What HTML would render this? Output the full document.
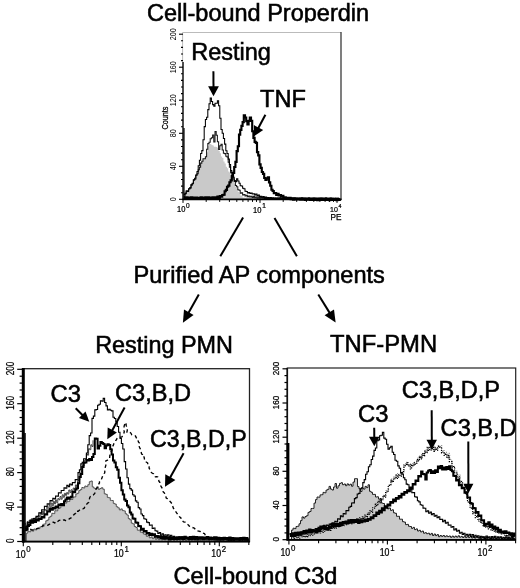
<!DOCTYPE html>
<html><head><meta charset="utf-8"><style>
html,body{margin:0;padding:0;background:#fff;}
svg{display:block;}
.t{font-family:"Liberation Sans",Arial,Helvetica,sans-serif;fill:#000;}
.b{stroke:#000;stroke-width:0.55px;}
.s{stroke:#000;stroke-width:0.25px;}
</style></head><body>
<svg width="520" height="588" viewBox="0 0 520 588">
<rect width="520" height="588" fill="#fff"/>
<path d="M183.8,199.0H185.0V193.8H186.2V191.8H187.4V191.5H188.6V190.0H189.8V188.8H191.0V185.8H192.2V183.9H193.4V180.6H194.6V178.8H195.8V175.3H197.0V172.8H198.2V169.3H199.4V167.1H200.6V163.4H201.8V161.2H203.0V158.6H204.2V158.7H205.4V156.9H206.6V152.2H207.8V145.7H209.0V144.2H210.2V144.0H211.4V145.1H212.6V145.5H213.8V146.8H215.0V146.7H216.2V147.1H217.4V148.0H218.6V151.1H219.8V153.2H221.0V156.4H222.2V158.1H223.4V161.4H224.6V163.5H225.8V166.7H227.0V168.3H228.2V171.4H229.4V172.5H230.6V175.8H231.8V177.9H233.0V181.2H234.2V183.5H235.4V186.7H236.6V188.6H237.8V191.7H239.0V193.4H240.2V195.5H241.4V195.7H242.6V197.6H243.8V197.4H245.0V197.8H246.2V197.2H247.4V198.0H248.6V197.2H249.8V198.1H251.0V197.5H252.2V197.8H253.4V196.9H254.6V197.4H255.8V196.5H257.0V196.0H258.2V194.4H259.4V195.4H260.6V196.0H261.8V197.5H263.0V197.4H264.2V197.9H265.4V197.5H266.6V198.3H267.8V197.9H269.0V198.7H270.2V198.3H271.4V198.9H272.6V198.3H273.8V198.9H275.0V198.4H276.2V198.9H277.4V198.3H278.6V198.8H279.8V198.1H281.0V199.0H282.2V198.4H283.4V199.1H284.6V198.4H285.8V198.9H287.0V198.2H288.2V199.1H289.4V198.5H290.6V199.2H291.8V198.5H293.0V199.0H294.2V198.3H295.4V199.0H296.6V198.5H297.8V199.0H299.0V198.6H300.2V199.2H301.4V198.6H302.6V199.2H303.8V198.6H305.0V199.2H306.2V198.4H307.4V199.2H308.6V198.6H309.8V199.3H311.0V198.7H312.2V199.2H313.4V198.5H314.6V199.3H315.8V198.8H317.0V199.2H318.2V198.6H319.4V199.3H320.6V198.8H321.8V199.3H323.0V198.6H324.2V199.3H325.4V198.8H326.6V199.3H327.8V199.0H329.0V199.3H330.2V198.9H331.4V199.3H332.6V199.0H333.8V199.3H335.0V198.9H336.2V199.3H337.4V199.1H338.6V199.3H339.8V199.1V199.3H183.8Z" fill="#c9c9c9" stroke="none" stroke-width="1" stroke-linejoin="miter"/>
<path d="M183.8,196.4H185.0V193.1H186.2V190.7H187.4V190.8H188.6V188.7H189.8V187.5H191.0V184.6H192.2V183.7H193.4V180.1H194.6V179.3H195.8V175.3H197.0V173.8H198.2V169.7H199.4V167.2H200.6V163.1H201.8V161.3H203.0V158.7H204.2V158.7H205.4V156.8H206.6V149.2H207.8V143.6H209.0V142.2H210.2V138.8H211.4V137.7H212.6V135.0H213.8V142.0H215.0V131.6H216.2V135.2H217.4V141.7H218.6V149.5H219.8V145.7H221.0V144.2H222.2V150.0H223.4V153.3H224.6V153.6H225.8V156.3H227.0V157.0H228.2V162.3H229.4V167.1H230.6V172.6H231.8V174.5H233.0V178.9H234.2V181.4H235.4V185.5H236.6V186.8H237.8V189.7H239.0V190.2H240.2V193.2H241.4V192.8H242.6V195.0H243.8V194.4H245.0V196.0H246.2V195.3H247.4V196.8H248.6V196.0H249.8V196.9H251.0V196.2H252.2V197.5H253.4V196.2H254.6V197.7H255.8V197.0H257.0V198.2H258.2V197.0H259.4V198.2H260.6V197.3H261.8V198.3H263.0V197.3H264.2V198.7H265.4V197.7H266.6V198.7H267.8V197.8H269.0V198.9H270.2V198.0H271.4V198.8H272.6V197.8H273.8V199.0H275.0V198.0H276.2V198.9H277.4V198.0H278.6V198.8H279.8V197.8H281.0V199.3H282.2V197.8H283.4V199.3H284.6V198.1H285.8V199.3H287.0V198.0H288.2V198.9H289.4V197.8H290.6V199.4H291.8V198.2H293.0V199.0H294.2V197.8H295.4V199.0H296.6V198.1H297.8V198.9H299.0V198.3H300.2V199.3H301.4V197.7H302.6V199.5H303.8V198.0H305.0V198.9H306.2V198.2H307.4V199.4H308.6V197.8H309.8V199.3H311.0V198.2H312.2V199.3H313.4V198.1H314.6V199.3H315.8V198.2H317.0V199.6H318.2V197.9H319.4V199.1H320.6V198.2H321.8V199.5H323.0V198.3H324.2V199.6H325.4V198.1H326.6V199.4H327.8V198.0H329.0V199.1H330.2V198.3H331.4V199.2H332.6V198.1H333.8V199.5H335.0V198.4H336.2V199.6H337.4V198.3H338.6V199.2H339.8V198.3" fill="none" stroke="#1a1a1a" stroke-width="1.05" stroke-linejoin="miter"/>
<path d="M183.8,194.6H185.0V193.6H186.2V191.3H187.4V191.5H188.6V189.0H189.8V188.1H191.0V185.1H192.2V183.3H193.4V179.8H194.6V178.2H195.8V174.9H197.0V171.4H198.2V165.8H199.4V160.2H200.6V153.5H201.8V150.6H203.0V139.7H204.2V126.6H205.4V119.4H206.6V117.2H207.8V109.6H209.0V103.8H210.2V97.9H211.4V101.4H212.6V104.6H213.8V106.1H215.0V103.3H216.2V103.3H217.4V100.8H218.6V105.7H219.8V118.2H221.0V129.5H222.2V133.2H223.4V138.4H224.6V144.1H225.8V150.7H227.0V153.5H228.2V159.1H229.4V164.5H230.6V170.6H231.8V172.8H233.0V177.2H234.2V180.6H235.4V181.8H236.6V178.7H237.8V180.9H239.0V183.2H240.2V185.7H241.4V185.9H242.6V188.2H243.8V188.7H245.0V191.3H246.2V191.4H247.4V193.0H248.6V192.5H249.8V193.5H251.0V193.0H252.2V194.0H253.4V193.7H254.6V195.0H255.8V194.0H257.0V195.6H258.2V194.9H259.4V196.8H260.6V196.2H261.8V197.2H263.0V196.5H264.2V198.1H265.4V197.0H266.6V198.1H267.8V197.5H269.0V198.9H270.2V197.6H271.4V199.0H272.6V198.0H273.8V199.1H275.0V197.9H276.2V199.0H277.4V198.1H278.6V199.2H279.8V197.8H281.0V199.1H282.2V198.1H283.4V199.0H284.6V197.9H285.8V199.0H287.0V198.0H288.2V199.1H289.4V198.1H290.6V198.9H291.8V198.2H293.0V199.2H294.2V198.2H295.4V198.9H296.6V198.3H297.8V199.2H299.0V198.0H300.2V199.1H301.4V198.3H302.6V199.1H303.8V198.2H305.0V198.9H306.2V198.4H307.4V199.4H308.6V198.3H309.8V199.1H311.0V198.3H312.2V199.2H313.4V198.4H314.6V199.2H315.8V198.2H317.0V199.4H318.2V198.4H319.4V199.1H320.6V198.2H321.8V199.5H323.0V198.2H324.2V199.2H325.4V198.1H326.6V199.1H327.8V198.5H329.0V199.3H330.2V198.0H331.4V199.4H332.6V198.4H333.8V199.4H335.0V198.1H336.2V199.2H337.4V198.2H338.6V199.2H339.8V198.4" fill="none" stroke="#000" stroke-width="1.05" stroke-linejoin="miter"/>
<path d="M183.8,197.7H185.0V198.6H186.2V197.4H187.4V198.8H188.6V197.6H189.8V198.4H191.0V197.3H192.2V198.6H193.4V197.6H194.6V198.6H195.8V197.5H197.0V198.7H198.2V197.7H199.4V198.4H200.6V197.2H201.8V198.4H203.0V197.6H204.2V198.6H205.4V197.3H206.6V198.2H207.8V197.3H209.0V198.5H210.2V197.5H211.4V198.4H212.6V197.4H213.8V198.0H215.0V197.2H216.2V197.8H217.4V196.6H218.6V197.8H219.8V196.0H221.0V196.6H222.2V195.0H223.4V194.7H224.6V191.2H225.8V189.9H227.0V186.7H228.2V185.6H229.4V182.2H230.6V180.3H231.8V176.1H233.0V172.9H234.2V167.0H235.4V161.8H236.6V151.1H237.8V146.2H239.0V134.6H240.2V129.8H241.4V125.8H242.6V122.1H243.8V115.4H245.0V117.5H246.2V121.1H247.4V124.5H248.6V120.9H249.8V117.5H251.0V120.9H252.2V131.2H253.4V137.8H254.6V141.9H255.8V142.9H257.0V152.1H258.2V155.3H259.4V164.3H260.6V167.9H261.8V172.0H263.0V173.8H264.2V178.0H265.4V179.8H266.6V178.6H267.8V177.2H269.0V182.3H270.2V185.7H271.4V189.7H272.6V191.0H273.8V193.2H275.0V193.1H276.2V194.8H277.4V193.9H278.6V195.4H279.8V195.0H281.0V196.1H282.2V195.8H283.4V197.6H284.6V197.3H285.8V198.3H287.0V197.8H288.2V198.7H289.4V197.7H290.6V199.2H291.8V198.3H293.0V199.6H294.2V198.5H295.4V199.4H296.6V198.8H297.8V199.5H299.0V198.9H300.2V199.7H301.4V198.6H302.6V199.7H303.8V198.9H305.0V199.9H306.2V198.6H307.4V199.7H308.6V198.7H309.8V199.8H311.0V198.8H312.2V199.9H313.4V198.6H314.6V200.0H315.8V198.9H317.0V200.1H318.2V198.9H319.4V199.9H320.6V198.6H321.8V200.0H323.0V198.7H324.2V199.8H325.4V198.7H326.6V200.0H327.8V199.1H329.0V200.2H330.2V198.9H331.4V199.9H332.6V199.1H333.8V199.8H335.0V199.1H336.2V200.1H337.4V199.2H338.6V199.9H339.8V199.0" fill="none" stroke="#000" stroke-width="2.15" stroke-linejoin="miter"/>
<line x1="182.6" y1="32.5" x2="341" y2="32.5" stroke="#bbb" stroke-width="1"/>
<line x1="182.6" y1="32.5" x2="182.6" y2="62" stroke="#bbb" stroke-width="1"/>
<line x1="183" y1="62" x2="183" y2="200" stroke="#000" stroke-width="1.4"/>
<line x1="184" y1="128" x2="184" y2="199" stroke="#000" stroke-width="1.2"/>
<line x1="341" y1="32" x2="341" y2="200" stroke="#3a3a3a" stroke-width="1.3"/>
<line x1="182.5" y1="199.4" x2="341.5" y2="199.4" stroke="#000" stroke-width="1.6"/>
<line x1="179" y1="199.3" x2="183" y2="199.3" stroke="#000" stroke-width="1.1"/>
<line x1="181" y1="192.7" x2="183" y2="192.7" stroke="#000" stroke-width="1.1"/>
<line x1="181" y1="186.1" x2="183" y2="186.1" stroke="#000" stroke-width="1.1"/>
<line x1="181" y1="179.5" x2="183" y2="179.5" stroke="#000" stroke-width="1.1"/>
<line x1="181" y1="172.9" x2="183" y2="172.9" stroke="#000" stroke-width="1.1"/>
<line x1="179" y1="166.3" x2="183" y2="166.3" stroke="#000" stroke-width="1.1"/>
<line x1="181" y1="159.7" x2="183" y2="159.7" stroke="#000" stroke-width="1.1"/>
<line x1="181" y1="153.1" x2="183" y2="153.1" stroke="#000" stroke-width="1.1"/>
<line x1="181" y1="146.5" x2="183" y2="146.5" stroke="#000" stroke-width="1.1"/>
<line x1="181" y1="139.9" x2="183" y2="139.9" stroke="#000" stroke-width="1.1"/>
<line x1="179" y1="133.3" x2="183" y2="133.3" stroke="#000" stroke-width="1.1"/>
<line x1="181" y1="126.7" x2="183" y2="126.7" stroke="#000" stroke-width="1.1"/>
<line x1="181" y1="120.1" x2="183" y2="120.1" stroke="#000" stroke-width="1.1"/>
<line x1="181" y1="113.4" x2="183" y2="113.4" stroke="#000" stroke-width="1.1"/>
<line x1="181" y1="106.8" x2="183" y2="106.8" stroke="#000" stroke-width="1.1"/>
<line x1="179" y1="100.2" x2="183" y2="100.2" stroke="#000" stroke-width="1.1"/>
<line x1="181" y1="93.6" x2="183" y2="93.6" stroke="#000" stroke-width="1.1"/>
<line x1="181" y1="87.0" x2="183" y2="87.0" stroke="#000" stroke-width="1.1"/>
<line x1="181" y1="80.4" x2="183" y2="80.4" stroke="#000" stroke-width="1.1"/>
<line x1="181" y1="73.8" x2="183" y2="73.8" stroke="#000" stroke-width="1.1"/>
<line x1="179" y1="67.2" x2="183" y2="67.2" stroke="#000" stroke-width="1.1"/>
<line x1="181" y1="60.6" x2="183" y2="60.6" stroke="#000" stroke-width="1.1"/>
<line x1="181" y1="54.0" x2="183" y2="54.0" stroke="#000" stroke-width="1.1"/>
<line x1="181" y1="47.4" x2="183" y2="47.4" stroke="#000" stroke-width="1.1"/>
<line x1="181" y1="40.8" x2="183" y2="40.8" stroke="#000" stroke-width="1.1"/>
<line x1="179" y1="34.2" x2="183" y2="34.2" stroke="#000" stroke-width="1.1"/>
<text transform="translate(176.0,199.3) rotate(-90) scale(0.88,1)" text-anchor="middle" font-size="8.3" class="t">0</text>
<text transform="translate(176.0,166.3) rotate(-90) scale(0.88,1)" text-anchor="middle" font-size="8.3" class="t">40</text>
<text transform="translate(176.0,133.3) rotate(-90) scale(0.88,1)" text-anchor="middle" font-size="8.3" class="t">80</text>
<text transform="translate(176.0,100.2) rotate(-90) scale(0.88,1)" text-anchor="middle" font-size="8.3" class="t">120</text>
<text transform="translate(176.0,67.2) rotate(-90) scale(0.88,1)" text-anchor="middle" font-size="8.3" class="t">160</text>
<text transform="translate(176.0,34.2) rotate(-90) scale(0.88,1)" text-anchor="middle" font-size="8.3" class="t">200</text>
<text transform="translate(167.6,118) rotate(-90) scale(0.95,1.1)" text-anchor="middle" font-size="7.6" class="t s">Counts</text>
<line x1="183.0" y1="199.4" x2="183.0" y2="202.9" stroke="#000" stroke-width="1"/>
<line x1="206.2" y1="199.4" x2="206.2" y2="201.9" stroke="#000" stroke-width="1"/>
<line x1="219.7" y1="199.4" x2="219.7" y2="201.9" stroke="#000" stroke-width="1"/>
<line x1="229.4" y1="199.4" x2="229.4" y2="201.9" stroke="#000" stroke-width="1"/>
<line x1="236.8" y1="199.4" x2="236.8" y2="201.9" stroke="#000" stroke-width="1"/>
<line x1="242.9" y1="199.4" x2="242.9" y2="201.9" stroke="#000" stroke-width="1"/>
<line x1="248.1" y1="199.4" x2="248.1" y2="201.9" stroke="#000" stroke-width="1"/>
<line x1="252.5" y1="199.4" x2="252.5" y2="201.9" stroke="#000" stroke-width="1"/>
<line x1="256.5" y1="199.4" x2="256.5" y2="201.9" stroke="#000" stroke-width="1"/>
<line x1="260.0" y1="199.4" x2="260.0" y2="202.9" stroke="#000" stroke-width="1"/>
<line x1="283.2" y1="199.4" x2="283.2" y2="201.9" stroke="#000" stroke-width="1"/>
<line x1="296.7" y1="199.4" x2="296.7" y2="201.9" stroke="#000" stroke-width="1"/>
<line x1="306.4" y1="199.4" x2="306.4" y2="201.9" stroke="#000" stroke-width="1"/>
<line x1="313.8" y1="199.4" x2="313.8" y2="201.9" stroke="#000" stroke-width="1"/>
<line x1="319.9" y1="199.4" x2="319.9" y2="201.9" stroke="#000" stroke-width="1"/>
<line x1="325.1" y1="199.4" x2="325.1" y2="201.9" stroke="#000" stroke-width="1"/>
<line x1="329.5" y1="199.4" x2="329.5" y2="201.9" stroke="#000" stroke-width="1"/>
<line x1="333.5" y1="199.4" x2="333.5" y2="201.9" stroke="#000" stroke-width="1"/>
<line x1="337.0" y1="199.4" x2="337.0" y2="202.9" stroke="#000" stroke-width="1"/>
<text transform="translate(176.94,212.2) scale(0.88,1)" font-size="8.6" class="t s">10<tspan font-size="7.4" dx="0.8" dy="-4.6">0</tspan></text>
<text transform="translate(253.04,212.5) scale(0.88,1)" font-size="8.6" class="t s">10<tspan font-size="7.4" dx="0.8" dy="-4.6">1</tspan></text>
<text transform="translate(330.00,212.3) scale(0.88,1)" font-size="8.0" class="t s">10<tspan font-size="6.0" dx="0.8" dy="-4.0">4</tspan></text>
<text x="330.6" y="220.2" font-size="8.2" class="t s">PE</text>
<clipPath id="ct"><rect x="0" y="0" width="520" height="22.6"/></clipPath><text x="147" y="21" font-size="23.5" class="t b" clip-path="url(#ct)">Cell-bound Properdin</text>
<text x="191.2" y="60" font-size="23.5" class="t b">Resting</text>
<text x="260" y="106.8" font-size="23.6" class="t b">TNF</text>
<line x1="213.4" y1="71.3" x2="213.5" y2="87.3" stroke="#000" stroke-width="2"/><polygon points="213.5,96.3 208.1,86.3 218.9,86.3" fill="#000"/>
<line x1="265.4" y1="114.8" x2="258.1" y2="128.5" stroke="#000" stroke-width="2"/><polygon points="253.8,136.4 253.9,125.1 263.2,130.1" fill="#000"/>
<line x1="243.1" y1="217.5" x2="220.3" y2="256.3" stroke="#000" stroke-width="2"/>
<line x1="274.5" y1="218" x2="296.9" y2="256.3" stroke="#000" stroke-width="2"/>
<text x="133.5" y="282.5" font-size="23.6" class="t b">Purified AP components</text>
<line x1="198.8" y1="294.5" x2="188.3" y2="313.2" stroke="#000" stroke-width="2"/><polygon points="182.9,322.8 184.0,309.6 193.6,315.0" fill="#000"/>
<line x1="318.3" y1="294.5" x2="329.8" y2="313.1" stroke="#000" stroke-width="2"/><polygon points="335.6,322.5 324.6,315.2 334.0,309.4" fill="#000"/>
<text x="95.2" y="352.5" font-size="23.4" class="t b">Resting PMN</text>
<text x="330" y="352.3" font-size="23.8" class="t b">TNF-PMN</text>
<text x="173.5" y="584.2" font-size="23.6" class="t b">Cell-bound C3d</text>
<path d="M24.8,541.1H26.3V533.1H27.8V531.2H29.3V531.8H30.8V530.3H32.3V531.1H33.8V529.0H35.3V529.9H36.8V528.3H38.3V528.7H39.8V526.9H41.3V526.5H42.8V524.3H44.3V523.9H45.8V520.8H47.3V520.0H48.8V517.2H50.3V516.2H51.8V513.3H53.3V513.6H54.8V510.7H56.3V510.8H57.8V508.5H59.3V508.0H60.8V505.7H62.3V505.3H63.8V502.8H65.3V503.1H66.8V501.3H68.3V501.4H69.8V499.3H71.3V499.5H72.8V497.1H74.3V496.9H75.8V494.0H77.3V493.2H78.8V490.6H80.3V489.6H81.8V487.5H83.3V488.0H84.8V486.0H86.3V486.6H87.8V484.7H89.3V481.7H90.8V481.0H92.3V486.9H93.8V488.2H95.3V488.7H96.8V486.8H98.3V489.4H99.8V488.5H101.3V487.7H102.8V489.2H104.3V493.8H105.8V494.4H107.3V497.4H108.8V497.8H110.3V500.4H111.8V500.5H113.3V503.4H114.8V504.1H116.3V506.7H117.8V507.8H119.3V509.9H120.8V508.9H122.3V510.6H123.8V510.9H125.3V513.7H126.8V515.0H128.3V518.6H129.8V519.8H131.3V523.1H132.8V523.9H134.3V526.5H135.8V527.5H137.3V530.2H138.8V530.0H140.3V532.2H141.8V532.3H143.3V534.0H144.8V534.3H146.3V536.3H147.8V535.6H149.3V537.8H150.8V537.1H152.3V538.7H153.8V537.4H155.3V539.3H156.8V538.1H158.3V539.7H159.8V538.2H161.3V539.9H162.8V538.4H164.3V539.9H165.8V538.9H167.3V539.8H168.8V538.6H170.3V539.9H171.8V539.3H173.3V540.4H174.8V538.9H176.3V540.3H177.8V539.0H179.3V540.1H180.8V539.4H182.3V540.4H183.8V539.4H185.3V540.4H186.8V539.7H188.3V540.6H189.8V539.3H191.3V541.1H192.8V539.5H194.3V540.9H195.8V539.9H197.3V541.3H198.8V539.9H200.3V541.2H201.8V540.2H203.3V541.0H204.8V539.8H206.3V541.4H207.8V539.8H209.3V541.3H210.8V540.2H212.3V541.4H213.8V540.0H215.3V541.3H216.8V540.2H218.3V541.3H219.8V540.2H221.3V541.2H222.8V540.3H224.3V541.5H225.8V540.7H227.3V541.5H228.8V540.4H230.3V541.5H231.8V540.5H233.3V541.5H234.8V540.7H236.3V541.5H237.8V540.4H239.3V541.5H240.8V541.0H242.3V541.5H243.8V541.1H245.3V541.5H246.8V541.1H248.3V541.5V541.5H24.8Z" fill="#c9c9c9" stroke="#333" stroke-width="0.8" stroke-linejoin="miter"/>
<polyline points="24.8,530.0 26.2,530.7 28.6,528.9 29.5,529.0 31.4,529.7 33.0,530.0 34.7,530.0 37.0,528.6 38.7,528.1 39.6,527.4 41.6,527.1 42.8,525.6 44.8,526.0 46.5,525.6 47.9,525.1 49.6,524.1 51.7,522.7 53.3,522.2 54.7,523.0 56.4,521.2 57.4,521.8 59.2,520.3 61.2,519.9 62.4,520.4 64.1,519.8 65.4,520.6 67.3,519.4 68.9,519.1 70.1,518.4 71.6,517.5 73.4,515.3 73.9,514.6 75.3,513.5 75.9,513.4 76.5,511.2 78.2,511.2 79.9,509.7 81.4,509.3 82.7,509.0 84.3,508.1 84.8,506.8 85.6,505.3 87.7,503.1 88.8,502.3 89.2,500.2 89.7,497.7 90.2,496.7 92.0,495.2 93.4,494.9 94.7,493.5 95.6,491.5 96.1,488.8 96.9,488.2 97.9,486.0 98.2,485.0 99.5,482.9 99.4,482.0 100.2,480.3 101.3,479.7 102.3,476.9 103.0,475.5 104.1,473.6 104.7,472.9 104.9,469.6 104.8,469.5 105.4,466.8 105.8,465.6 105.8,464.7 105.8,462.3 105.8,460.8 107.5,460.1 109.5,459.2 109.8,456.1 109.8,455.4 110.2,453.6 110.6,452.5 112.0,450.5 111.9,449.1 112.4,446.8 113.6,444.7 113.6,444.2 114.9,442.0 115.8,440.2 116.3,440.1 117.3,437.8 118.8,437.8 120.8,437.1 122.0,436.8 123.2,435.2 123.5,434.4 124.3,431.7 124.0,430.7 124.0,428.9 124.1,426.4 124.4,425.2 125.2,423.8 125.9,422.5 126.2,425.4 126.6,426.5 127.1,427.3 127.3,430.2 126.9,432.1 128.6,431.5 130.8,433.0 131.9,434.8 133.7,435.4 135.4,435.9 136.7,438.5 138.3,439.9 138.2,441.0 138.4,441.9 139.3,443.0 138.9,445.0 139.2,446.6 140.0,448.4 140.6,449.4 141.0,451.4 141.5,453.7 142.5,454.7 142.6,457.0 144.1,456.9 144.5,459.3 145.6,460.1 146.2,462.0 147.7,463.0 147.7,466.0 149.1,466.9 149.2,468.5 150.2,469.7 151.2,472.3 152.0,473.0 153.6,473.8 155.2,476.8 156.4,476.7 157.7,476.8 158.6,478.6 158.9,481.3 159.8,482.3 159.8,484.1 160.9,486.2 161.2,486.6 162.5,488.8 162.6,489.7 163.1,491.7 164.4,492.9 165.0,494.8 165.7,495.8 166.2,498.0 167.6,498.8 168.5,500.1 169.5,500.8 170.8,502.3 171.9,503.6 172.0,505.3 172.7,506.3 173.4,508.3 174.4,509.4 175.0,511.0 176.3,512.2 176.6,512.8 177.8,514.4 178.2,515.4 179.8,517.1 180.9,517.8 181.1,519.7 182.2,520.3 183.5,521.9 185.2,522.2 186.6,523.5 188.3,524.9 189.4,526.2 191.4,526.5 192.2,527.4 194.3,528.2 195.8,529.8 196.8,530.7 198.6,531.1 200.1,531.4 200.9,532.5 202.9,533.1 204.6,533.7 205.7,536.0 207.3,536.8 208.3,537.1 210.7,538.1 211.9,537.4 213.9,537.0 215.4,538.6 217.3,537.9 218.6,539.0 220.5,538.1 222.2,537.7 223.7,538.2 224.6,538.5 226.1,537.8 228.2,538.2 229.6,539.2 231.1,538.4 232.3,539.1 233.9,538.0 235.2,538.3 236.6,538.6 238.3,539.5 240.2,539.6 241.8,538.0 243.0,539.5 244.5,539.6 245.7,538.1 247.8,538.6 249.0,539.0" fill="none" stroke="#000" stroke-width="1.35" stroke-linejoin="round" stroke-dasharray="3.4,2.8"/>
<path d="M24.8,523.7H25.9V527.3H27.0V521.7H28.1V523.7H29.2V520.1H30.3V522.3H31.4V518.7H32.5V520.7H33.6V518.2H34.7V520.1H35.8V517.0H36.9V518.7H38.0V515.6H39.1V516.3H40.2V512.6H41.3V515.0H42.4V511.1H43.5V513.7H44.6V509.5H45.7V510.7H46.8V507.0H47.9V509.8H49.0V505.3H50.1V508.0H51.2V503.0H52.3V505.7H53.4V501.5H54.5V503.9H55.6V500.0H56.7V502.6H57.8V498.6H58.9V499.8H60.0V496.5H61.1V499.2H62.2V494.8H63.3V497.3H64.4V493.3H65.5V495.4H66.6V492.6H67.7V494.1H68.8V490.0H69.9V492.4H71.0V489.8H72.1V490.8H73.2V488.0H74.3V488.9H75.4V484.9H76.5V486.8H77.6V480.5H78.7V480.1H79.8V473.6H80.9V471.6H82.0V465.3H83.1V466.0H84.2V460.3H85.3V459.6H86.4V454.0H87.5V455.2H88.6V448.7H89.7V449.7H90.8V444.8H91.9V446.5H93.0V440.3" fill="none" stroke="#333" stroke-width="0.9" stroke-linejoin="miter"/>
<path d="M24.8,527.0H26.2V526.4H27.6V522.2H29.0V522.6H30.4V520.1H31.8V520.8H33.2V518.6H34.6V519.2H36.0V516.4H37.4V516.2H38.8V512.7H40.2V513.1H41.6V509.7H43.0V510.0H44.4V506.3H45.8V506.4H47.2V503.7H48.6V504.1H50.0V500.6H51.4V501.0H52.8V498.4H54.2V498.9H55.6V496.0H57.0V496.1H58.4V492.7H59.8V493.0H61.2V490.5H62.6V490.5H64.0V487.9H65.4V488.3H66.8V485.4H68.2V486.6H69.6V484.0H71.0V484.9H72.4V482.5H73.8V482.6H75.2V479.6H76.6V479.7H78.0V472.6H79.4V469.9H80.8V463.9H82.2V462.4H83.6V458.8H85.0V458.8H86.4V453.0H87.8V444.7H89.2V435.6H90.6V433.0H92.0V418.4H93.4V416.1H94.8V409.9H96.2V409.5H97.6V405.2H99.0V404.3H100.4V400.7H101.8V401.1H103.2V398.4H104.6V402.5H106.0V405.9H107.4V410.0H108.8V409.2H110.2V410.3H111.6V410.9H113.0V417.2H114.4V418.5H115.8V421.8H117.2V426.5H118.6V432.2H120.0V438.4H121.4V443.5H122.8V449.0H124.2V461.6H125.6V469.0H127.0V477.7H128.4V484.1H129.8V488.6H131.2V490.1H132.6V494.7H134.0V496.1H135.4V500.9H136.8V502.2H138.2V507.6H139.6V509.0H141.0V514.0H142.4V515.6H143.8V518.7H145.2V519.2H146.6V522.1H148.0V522.6H149.4V525.3H150.8V525.0H152.2V528.5H153.6V528.0H155.0V530.7H156.4V531.1H157.8V533.4H159.2V532.6H160.6V535.2H162.0V533.9H163.4V536.2H164.8V534.7H166.2V536.2H167.6V534.8H169.0V536.7H170.4V535.3H171.8V537.2H173.2V536.4H174.6V537.8H176.0V536.9H177.4V538.6H178.8V536.7H180.2V538.8H181.6V536.9H183.0V538.6H184.4V537.4H185.8V538.7H187.2V537.8H188.6V539.3H190.0V537.9H191.4V539.5H192.8V537.5H194.2V539.4H195.6V538.1H197.0V539.6H198.4V537.5H199.8V539.0H201.2V538.1H202.6V539.1H204.0V537.9H205.4V539.2H206.8V537.7H208.2V539.6H209.6V537.9H211.0V539.5H212.4V538.0H213.8V539.7H215.2V538.1H216.6V539.8H218.0V537.9H219.4V540.2H220.8V538.1H222.2V539.9H223.6V538.7H225.0V539.8H226.4V538.9H227.8V540.6H229.2V538.8H230.6V540.6H232.0V539.0H233.4V540.4H234.8V539.0H236.2V540.2H237.6V538.7H239.0V540.6H240.4V538.6H241.8V540.4H243.2V539.2H244.6V540.3H246.0V539.4H247.4V541.1H248.8V539.2" fill="none" stroke="#000" stroke-width="1.1" stroke-linejoin="miter"/>
<path d="M24.8,528.3H26.2V529.5H27.6V525.9H29.0V525.0H30.4V521.3H31.8V522.8H33.2V521.0H34.6V522.0H36.0V519.7H37.4V520.4H38.8V518.4H40.2V519.1H41.6V516.9H43.0V517.4H44.4V514.3H45.8V514.6H47.2V511.2H48.6V511.6H50.0V508.9H51.4V509.7H52.8V507.8H54.2V508.4H55.6V506.4H57.0V507.3H58.4V504.5H59.8V505.1H61.2V503.9H62.6V505.2H64.0V501.2H65.4V499.4H66.8V497.4H68.2V498.7H69.6V497.6H71.0V496.8H72.4V492.1H73.8V492.3H75.2V489.4H76.6V488.3H78.0V483.3H79.4V477.0H80.8V474.0H82.2V467.1H83.6V462.8H85.0V462.5H86.4V459.9H87.8V460.6H89.2V459.1H90.6V460.0H92.0V457.0H93.4V454.0H94.8V438.6H96.2V438.7H97.6V448.6H99.0V445.8H100.4V442.0H101.8V443.1H103.2V444.0H104.6V448.3H106.0V445.5H107.4V444.2H108.8V445.0H110.2V449.3H111.6V454.4H113.0V460.5H114.4V462.6H115.8V467.3H117.2V469.7H118.6V477.7H120.0V482.7H121.4V490.2H122.8V494.6H124.2V499.4H125.6V500.9H127.0V505.4H128.4V507.3H129.8V512.5H131.2V514.5H132.6V518.4H134.0V518.8H135.4V522.5H136.8V522.7H138.2V526.0H139.6V526.2H141.0V529.7H142.4V528.8H143.8V531.6H145.2V530.9H146.6V533.4H148.0V533.1H149.4V534.9H150.8V533.8H152.2V535.3H153.6V534.3H155.0V536.7H156.4V535.9H157.8V537.3H159.2V536.3H160.6V538.2H162.0V536.8H163.4V538.8H164.8V536.9H166.2V538.4H167.6V537.4H169.0V539.4H170.4V537.4H171.8V539.0H173.2V537.8H174.6V539.0H176.0V537.9H177.4V539.1H178.8V537.2H180.2V538.7H181.6V537.2H183.0V539.1H184.4V536.8H185.8V538.4H187.2V537.4H188.6V538.9H190.0V537.1H191.4V538.2H192.8V536.7H194.2V538.4H195.6V536.9H197.0V538.8H198.4V537.3H199.8V538.7H201.2V537.3H202.6V539.0H204.0V537.4H205.4V538.6H206.8V537.0H208.2V538.7H209.6V537.4H211.0V539.0H212.4V537.8H213.8V538.8H215.2V537.3H216.6V539.5H218.0V537.7H219.4V539.1H220.8V538.0H222.2V539.2H223.6V537.8H225.0V539.3H226.4V537.9H227.8V539.2H229.2V537.4H230.6V539.6H232.0V538.0H233.4V539.1H234.8V538.3H236.2V539.2H237.6V538.3H239.0V539.6H240.4V538.0H241.8V539.3H243.2V537.8H244.6V539.8H246.0V538.0H247.4V540.1H248.8V538.4" fill="none" stroke="#000" stroke-width="2.0" stroke-linejoin="miter"/>
<rect x="23.3" y="368.7" width="226.2" height="172.8" fill="none" stroke="#222" stroke-width="1.3"/>
<line x1="23.3" y1="368" x2="23.3" y2="542.5" stroke="#000" stroke-width="3"/>
<line x1="25" y1="433" x2="25" y2="541.5" stroke="#000" stroke-width="1.5"/>
<line x1="22" y1="541.7" x2="250" y2="541.7" stroke="#000" stroke-width="1.8"/>
<line x1="17.2" y1="541.5" x2="23" y2="541.5" stroke="#000" stroke-width="1.2"/>
<line x1="19.6" y1="534.6" x2="23" y2="534.6" stroke="#000" stroke-width="1.2"/>
<line x1="19.6" y1="527.7" x2="23" y2="527.7" stroke="#000" stroke-width="1.2"/>
<line x1="19.6" y1="520.8" x2="23" y2="520.8" stroke="#000" stroke-width="1.2"/>
<line x1="19.6" y1="513.9" x2="23" y2="513.9" stroke="#000" stroke-width="1.2"/>
<line x1="17.2" y1="507.1" x2="23" y2="507.1" stroke="#000" stroke-width="1.2"/>
<line x1="19.6" y1="500.2" x2="23" y2="500.2" stroke="#000" stroke-width="1.2"/>
<line x1="19.6" y1="493.3" x2="23" y2="493.3" stroke="#000" stroke-width="1.2"/>
<line x1="19.6" y1="486.4" x2="23" y2="486.4" stroke="#000" stroke-width="1.2"/>
<line x1="19.6" y1="479.5" x2="23" y2="479.5" stroke="#000" stroke-width="1.2"/>
<line x1="17.2" y1="472.6" x2="23" y2="472.6" stroke="#000" stroke-width="1.2"/>
<line x1="19.6" y1="465.7" x2="23" y2="465.7" stroke="#000" stroke-width="1.2"/>
<line x1="19.6" y1="458.8" x2="23" y2="458.8" stroke="#000" stroke-width="1.2"/>
<line x1="19.6" y1="452.0" x2="23" y2="452.0" stroke="#000" stroke-width="1.2"/>
<line x1="19.6" y1="445.1" x2="23" y2="445.1" stroke="#000" stroke-width="1.2"/>
<line x1="17.2" y1="438.2" x2="23" y2="438.2" stroke="#000" stroke-width="1.2"/>
<line x1="19.6" y1="431.3" x2="23" y2="431.3" stroke="#000" stroke-width="1.2"/>
<line x1="19.6" y1="424.4" x2="23" y2="424.4" stroke="#000" stroke-width="1.2"/>
<line x1="19.6" y1="417.5" x2="23" y2="417.5" stroke="#000" stroke-width="1.2"/>
<line x1="19.6" y1="410.6" x2="23" y2="410.6" stroke="#000" stroke-width="1.2"/>
<line x1="17.2" y1="403.7" x2="23" y2="403.7" stroke="#000" stroke-width="1.2"/>
<line x1="19.6" y1="396.9" x2="23" y2="396.9" stroke="#000" stroke-width="1.2"/>
<line x1="19.6" y1="390.0" x2="23" y2="390.0" stroke="#000" stroke-width="1.2"/>
<line x1="19.6" y1="383.1" x2="23" y2="383.1" stroke="#000" stroke-width="1.2"/>
<line x1="19.6" y1="376.2" x2="23" y2="376.2" stroke="#000" stroke-width="1.2"/>
<line x1="17.2" y1="369.3" x2="23" y2="369.3" stroke="#000" stroke-width="1.2"/>
<text transform="translate(13.9,540.7) rotate(-90) scale(0.78,1)" text-anchor="middle" font-size="10.5" class="t s">0</text>
<text transform="translate(13.9,506.3) rotate(-90) scale(0.78,1)" text-anchor="middle" font-size="10.5" class="t s">40</text>
<text transform="translate(13.9,471.8) rotate(-90) scale(0.78,1)" text-anchor="middle" font-size="10.5" class="t s">80</text>
<text transform="translate(13.9,437.4) rotate(-90) scale(0.78,1)" text-anchor="middle" font-size="10.5" class="t s">120</text>
<text transform="translate(13.9,402.9) rotate(-90) scale(0.78,1)" text-anchor="middle" font-size="10.5" class="t s">160</text>
<text transform="translate(13.9,368.5) rotate(-90) scale(0.78,1)" text-anchor="middle" font-size="10.5" class="t s">200</text>
<line x1="23.3" y1="541.7" x2="23.3" y2="546.3000000000001" stroke="#000" stroke-width="1.1"/>
<line x1="52.8" y1="541.7" x2="52.8" y2="545.0" stroke="#000" stroke-width="1.1"/>
<line x1="70.1" y1="541.7" x2="70.1" y2="545.0" stroke="#000" stroke-width="1.1"/>
<line x1="82.3" y1="541.7" x2="82.3" y2="545.0" stroke="#000" stroke-width="1.1"/>
<line x1="91.8" y1="541.7" x2="91.8" y2="545.0" stroke="#000" stroke-width="1.1"/>
<line x1="99.6" y1="541.7" x2="99.6" y2="545.0" stroke="#000" stroke-width="1.1"/>
<line x1="106.1" y1="541.7" x2="106.1" y2="545.0" stroke="#000" stroke-width="1.1"/>
<line x1="111.8" y1="541.7" x2="111.8" y2="545.0" stroke="#000" stroke-width="1.1"/>
<line x1="116.8" y1="541.7" x2="116.8" y2="545.0" stroke="#000" stroke-width="1.1"/>
<line x1="121.3" y1="541.7" x2="121.3" y2="546.3000000000001" stroke="#000" stroke-width="1.1"/>
<line x1="150.8" y1="541.7" x2="150.8" y2="545.0" stroke="#000" stroke-width="1.1"/>
<line x1="168.1" y1="541.7" x2="168.1" y2="545.0" stroke="#000" stroke-width="1.1"/>
<line x1="180.3" y1="541.7" x2="180.3" y2="545.0" stroke="#000" stroke-width="1.1"/>
<line x1="189.8" y1="541.7" x2="189.8" y2="545.0" stroke="#000" stroke-width="1.1"/>
<line x1="197.6" y1="541.7" x2="197.6" y2="545.0" stroke="#000" stroke-width="1.1"/>
<line x1="204.1" y1="541.7" x2="204.1" y2="545.0" stroke="#000" stroke-width="1.1"/>
<line x1="209.8" y1="541.7" x2="209.8" y2="545.0" stroke="#000" stroke-width="1.1"/>
<line x1="214.8" y1="541.7" x2="214.8" y2="545.0" stroke="#000" stroke-width="1.1"/>
<line x1="219.3" y1="541.7" x2="219.3" y2="546.3000000000001" stroke="#000" stroke-width="1.1"/>
<line x1="248.8" y1="541.7" x2="248.8" y2="545.0" stroke="#000" stroke-width="1.1"/>
<text transform="translate(15.82,557.5) scale(0.88,1)" font-size="10" class="t s">10<tspan font-size="9" dx="0.8" dy="-5.2">0</tspan></text>
<text transform="translate(113.92,557.4) scale(0.88,1)" font-size="10" class="t s">10<tspan font-size="9" dx="0.8" dy="-5.2">1</tspan></text>
<text transform="translate(211.32,557.3) scale(0.88,1)" font-size="10" class="t s">10<tspan font-size="9" dx="0.8" dy="-5.2">2</tspan></text>
<text x="50.6" y="402.2" font-size="23.8" class="t b">C3</text>
<text x="115" y="401.4" font-size="23.6" class="t b">C3,B,D</text>
<text x="150" y="447.3" font-size="23.2" class="t b">C3,B,D,P</text>
<line x1="75.7" y1="408.3" x2="82.9" y2="415.5" stroke="#000" stroke-width="2"/><polygon points="89.3,421.8 78.9,418.1 85.5,411.4" fill="#000"/>
<line x1="124.6" y1="407.6" x2="111.9" y2="431.0" stroke="#000" stroke-width="2"/><polygon points="107.3,439.3 107.7,427.6 116.9,432.6" fill="#000"/>
<line x1="183.6" y1="453.2" x2="169.9" y2="478.0" stroke="#000" stroke-width="2"/><polygon points="165.0,486.7 165.3,474.3 175.4,479.9" fill="#000"/>
<path d="M290.0,539.4H291.5V530.1H293.0V528.2H294.5V528.6H296.0V526.5H297.5V526.2H299.0V523.8H300.5V520.6H302.0V516.9H303.5V518.1H305.0V516.5H306.5V515.7H308.0V512.4H309.5V511.5H311.0V508.5H312.5V508.4H314.0V503.1H315.5V499.6H317.0V497.0H318.5V497.2H320.0V494.9H321.5V494.7H323.0V492.4H324.5V492.8H326.0V490.1H327.5V489.3H329.0V486.4H330.5V489.1H332.0V490.0H333.5V487.0H335.0V483.5H336.5V488.2H338.0V485.8H339.5V483.4H341.0V482.7H342.5V484.7H344.0V484.0H345.5V485.7H347.0V483.9H348.5V485.1H350.0V484.2H351.5V486.2H353.0V482.1H354.5V478.7H356.0V478.7H357.5V486.6H359.0V488.8H360.5V491.5H362.0V488.2H363.5V489.1H365.0V486.4H366.5V487.6H368.0V484.8H369.5V491.3H371.0V492.3H372.5V494.4H374.0V494.4H375.5V497.0H377.0V496.8H378.5V499.1H380.0V499.7H381.5V503.1H383.0V503.5H384.5V506.5H386.0V506.8H387.5V508.8H389.0V508.0H390.5V510.4H392.0V509.8H393.5V512.8H395.0V513.3H396.5V516.3H398.0V516.3H399.5V519.2H401.0V519.2H402.5V521.7H404.0V522.1H405.5V524.6H407.0V524.4H408.5V526.3H410.0V526.5H411.5V528.4H413.0V527.4H414.5V529.6H416.0V528.9H417.5V531.0H419.0V530.3H420.5V531.9H422.0V531.1H423.5V533.2H425.0V532.7H426.5V533.7H428.0V533.2H429.5V534.7H431.0V533.4H432.5V535.5H434.0V534.0H435.5V535.6H437.0V534.6H438.5V536.7H440.0V535.5H441.5V536.4H443.0V535.5H444.5V536.7H446.0V535.8H447.5V536.6H449.0V536.0H450.5V537.3H452.0V536.1H453.5V537.2H455.0V536.1H456.5V537.1H458.0V535.8H459.5V537.2H461.0V536.4H462.5V537.5H464.0V536.1H465.5V537.6H467.0V536.1H468.5V537.6H470.0V536.5H471.5V538.0H473.0V536.6H474.5V538.1H476.0V536.7H477.5V537.8H479.0V537.1H480.5V538.4H482.0V536.7H483.5V538.6H485.0V536.9H486.5V538.4H488.0V537.3H489.5V538.7H491.0V537.4H492.5V538.5H494.0V537.5H495.5V538.5H497.0V537.5H498.5V538.6H500.0V537.3H501.5V538.8H503.0V537.7H504.5V539.0H506.0V537.4H507.5V539.2H509.0V538.0H510.5V539.1H512.0V537.5H513.5V538.9H515.0V538.1V539.7H290.0Z" fill="#c9c9c9" stroke="#111" stroke-width="0.9" stroke-linejoin="miter"/>
<path d="M290.0,534.5H291.4V535.4H292.8V533.9H294.2V535.6H295.6V533.3H297.0V535.0H298.4V533.3H299.8V534.4H301.2V532.1H302.6V533.8H304.0V531.4H305.4V533.5H306.8V531.3H308.2V532.1H309.6V530.3H311.0V531.6H312.4V530.3H313.8V531.2H315.2V528.5H316.6V530.4H318.0V527.4H319.4V528.8H320.8V527.2H322.2V527.7H323.6V525.4H325.0V526.6H326.4V525.1H327.8V525.5H329.2V524.1H330.6V524.4H332.0V522.7H333.4V523.4H334.8V521.4H336.2V522.0H337.6V518.8H339.0V519.1H340.4V515.9H341.8V516.7H343.2V513.5H344.6V514.0H346.0V510.6H347.4V510.6H348.8V507.2H350.2V506.4H351.6V503.0H353.0V502.9H354.4V498.6H355.8V497.6H357.2V494.0H358.6V493.4H360.0V488.7H361.4V487.7H362.8V482.6H364.2V479.6H365.6V474.2H367.0V471.8H368.4V466.8H369.8V464.7H371.2V459.5H372.6V456.1H374.0V450.4H375.4V448.0H376.8V440.7H378.2V439.9H379.6V435.8H381.0V435.2H382.4V432.4H383.8V438.1H385.2V439.2H386.6V444.3H388.0V449.1H389.4V447.7H390.8V446.3H392.2V452.2H393.6V454.5H395.0V460.2H396.4V461.3H397.8V465.9H399.2V468.2H400.6V472.5H402.0V474.1H403.4V477.7H404.8V479.7H406.2V484.1H407.6V484.7H409.0V489.7H410.4V489.2H411.8V492.8H413.2V492.6H414.6V496.8H416.0V497.1H417.4V500.8H418.8V501.9H420.2V504.8H421.6V505.2H423.0V508.1H424.4V508.2H425.8V511.8H427.2V510.7H428.6V513.3H430.0V512.1H431.4V514.7H432.8V513.5H434.2V516.3H435.6V515.2H437.0V517.6H438.4V516.8H439.8V519.4H441.2V519.3H442.6V521.8H444.0V520.4H445.4V523.2H446.8V522.2H448.2V525.1H449.6V525.0H451.0V527.3H452.4V526.5H453.8V530.0H455.2V528.9H456.6V531.2H458.0V530.4H459.4V533.2H460.8V532.3H462.2V534.4H463.6V533.2H465.0V535.3H466.4V534.4H467.8V535.7H469.2V534.3H470.6V536.5H472.0V534.6H473.4V537.3H474.8V535.2H476.2V537.0H477.6V535.8H479.0V538.2H480.4V536.3H481.8V537.7H483.2V536.7H484.6V538.6H486.0V536.0H487.4V538.0H488.8V536.7H490.2V538.5H491.6V536.6H493.0V538.0H494.4V536.2H495.8V538.5H497.2V536.9H498.6V538.0H500.0V536.8H501.4V538.8H502.8V537.2H504.2V538.2H505.6V536.7H507.0V539.0H508.4V537.1H509.8V538.7H511.2V536.9H512.6V538.8H514.0V537.5" fill="none" stroke="#000" stroke-width="1.1" stroke-linejoin="miter"/>
<path d="M292.0,535.5H293.3V538.5H294.6V534.8H295.9V537.6H297.2V534.7H298.5V538.2H299.8V534.0H301.1V536.7H302.4V533.9H303.7V536.9H305.0V533.6H306.3V536.9H307.6V533.0H308.9V535.6H310.2V531.8H311.5V535.2H312.8V532.0H314.1V533.9H315.4V531.0H316.7V532.7H318.0V530.0H319.3V533.0H320.6V529.5H321.9V532.4H323.2V528.0H324.5V531.2H325.8V527.6H327.1V529.7H328.4V527.7H329.7V530.3H331.0V526.6H332.3V528.3H333.6V524.9H334.9V528.3H336.2V525.3H337.5V526.9H338.8V524.3H340.1V526.0H341.4V523.9H342.7V525.7H344.0V522.7H345.3V524.7H346.6V522.1H347.9V523.5H349.2V521.5H350.5V523.8H351.8V519.5H353.1V522.4H354.4V519.5H355.7V520.8H357.0V518.5H358.3V520.1H359.6V517.8H360.9V519.2H362.2V516.8H363.5V518.3H364.8V515.1H366.1V517.0H367.4V513.0H368.7V514.4H370.0V510.5H371.3V512.3H372.6V507.7H373.9V508.1H375.2V504.4H376.5V505.7H377.8V501.3H379.1V502.7H380.4V498.5H381.7V499.7H383.0V495.9H384.3V497.1H385.6V491.7H386.9V492.0H388.2V485.3H389.5V485.0H390.8V480.3H392.1V482.0H393.4V478.4H394.7V478.6H396.0V475.1H397.3V478.3H398.6V474.7H399.9V476.3H401.2V472.6H402.5V471.6H403.8V465.0H405.1V465.7H406.4V462.8H407.7V465.8H409.0V464.8H410.3V469.0H411.6V465.1H412.9V465.8H414.2V462.8H415.5V464.2H416.8V459.5H418.1V460.9H419.4V456.8H420.7V458.9H422.0V453.5H423.3V456.0H424.6V451.1H425.9V452.7H427.2V447.3H428.5V450.5H429.8V446.1H431.1V450.0H432.4V447.5H433.7V451.4H435.0V448.0H436.3V450.3H437.6V446.4H438.9V447.4H440.2V447.9H441.5V452.8H442.8V452.1H444.1V455.4H445.4V454.1H446.7V457.8H448.0V455.6H449.3V461.6H450.6V461.6H451.9V467.8H453.2V466.5H454.5V472.8H455.8V472.8H457.1V478.0H458.4V476.9H459.7V482.7H461.0V481.5H462.3V487.1H463.6V488.4H464.9V493.3H466.2V494.5H467.5V502.1H468.8V503.0H470.1V507.9H471.4V508.2H472.7V513.6H474.0V512.2H475.3V517.7H476.6V515.3H477.9V521.0H479.2V519.0H480.5V523.0H481.8V522.6H483.1V526.2H484.4V523.5H485.7V527.2H487.0V526.1H488.3V528.8H489.6V527.1H490.9V530.4H492.2V528.2H493.5V531.2H494.8V530.1H496.1V532.3H497.4V530.9H498.7V532.9H500.0V531.2H501.3V533.8H502.6V531.4H503.9V535.2H505.2V532.7H506.5V535.9H507.8V533.5H509.1V535.5H510.4V534.3H511.7V536.5H513.0V534.4H514.3V536.9" fill="none" stroke="#000" stroke-width="1.15" stroke-linejoin="miter" stroke-dasharray="1.2,1.1"/>
<path d="M375.6,503.4H376.9V505.2H378.2V500.6H379.5V502.7H380.8V498.6H382.1V500.0H383.4V495.1H384.7V496.6H386.0V490.4H387.3V491.1H388.6V485.3H389.9V484.5H391.2V479.1H392.5V480.8H393.8V476.4H395.1V477.9H396.4V473.6H397.7V476.0H399.0V473.4H400.3V475.1H401.6V472.3H402.9V471.4H404.2V465.7H405.5V463.8H406.8V461.8H408.1V464.6H409.4V463.9H410.7V466.4H412.0V463.5H413.3V464.7H414.6V461.9H415.9V462.1H417.2V458.2H418.5V460.1H419.8V455.7H421.1V458.1H422.4V453.4H423.7V454.2H425.0V450.3H426.3V450.8H427.6V446.9H428.9V449.4H430.2V445.4H431.5V448.8H432.8V445.8H434.1V449.9H435.4V447.1H436.7V448.9H438.0V445.7H439.3V446.4H440.6V445.6H441.9V450.9H443.2V450.5H444.5V454.1H445.8V452.3H447.1V455.3H448.4V453.3H449.7V459.4H451.0V461.0H452.3V466.2H453.6V466.4H454.9V471.4H456.2V471.1H457.5V475.1H458.8V474.8H460.1V480.5H461.4V481.2H462.7V485.9H464.0V485.7H465.3V491.7H466.6V493.0H467.9V499.4H469.2V501.0" fill="none" stroke="#000" stroke-width="0.8" stroke-linejoin="miter" stroke-dasharray="1,1.6" opacity="0.8"/>
<path d="M289.5,533.9H290.9V536.0H292.3V533.2H293.7V536.1H295.1V532.8H296.5V535.1H297.9V532.4H299.3V534.7H300.7V532.3H302.1V533.2H303.5V530.9H304.9V532.1H306.3V530.4H307.7V532.3H309.1V529.5H310.5V532.2H311.9V530.1H313.3V531.5H314.7V530.3H316.1V532.4H317.5V529.1H318.9V530.9H320.3V526.6H321.7V528.3H323.1V526.3H324.5V529.1H325.9V528.0H327.3V529.8H328.7V526.6H330.1V527.7H331.5V524.1H332.9V525.9H334.3V524.1H335.7V526.1H337.1V524.0H338.5V526.0H339.9V522.7H341.3V524.9H342.7V522.0H344.1V523.2H345.5V521.4H346.9V523.6H348.3V520.2H349.7V522.5H351.1V520.1H352.5V522.4H353.9V520.0H355.3V522.1H356.7V520.0H358.1V523.1H359.5V520.3H360.9V522.2H362.3V520.2H363.7V521.4H365.1V519.5H366.5V520.9H367.9V519.1H369.3V519.7H370.7V517.3H372.1V518.2H373.5V515.2H374.9V516.1H376.3V512.6H377.7V514.0H379.1V510.8H380.5V512.4H381.9V508.3H383.3V510.2H384.7V506.2H386.1V507.8H387.5V504.6H388.9V505.4H390.3V502.0H391.7V502.7H393.1V499.4H394.5V501.2H395.9V497.9H397.3V498.8H398.7V496.0H400.1V497.5H401.5V493.7H402.9V494.8H404.3V491.9H405.7V492.7H407.1V490.3H408.5V491.2H409.9V487.4H411.3V488.8H412.7V483.9H414.1V484.6H415.5V480.6H416.9V480.9H418.3V476.0H419.7V476.5H421.1V471.5H422.5V474.0H423.9V474.2H425.3V479.4H426.7V472.4H428.1V470.8H429.5V469.9H430.9V473.1H432.3V471.2H433.7V473.0H435.1V470.2H436.5V472.0H437.9V466.6H439.3V468.2H440.7V466.0H442.1V469.4H443.5V467.4H444.9V469.4H446.3V467.1H447.7V468.9H449.1V466.3H450.5V470.1H451.9V471.2H453.3V475.7H454.7V475.9H456.1V480.6H457.5V480.0H458.9V485.3H460.3V484.7H461.7V488.3H463.1V487.7H464.5V492.7H465.9V492.3H467.3V497.4H468.7V497.5H470.1V502.9H471.5V503.8H472.9V508.0H474.3V508.2H475.7V512.7H477.1V511.9H478.5V516.0H479.9V515.5H481.3V520.4H482.7V520.2H484.1V525.6H485.5V523.8H486.9V524.4H488.3V522.2H489.7V526.4H491.1V524.6H492.5V528.1H493.9V526.5H495.3V529.5H496.7V527.8H498.1V531.7H499.5V529.8H500.9V532.5H502.3V531.4H503.7V533.0H505.1V531.2H506.5V532.9H507.9V532.4H509.3V534.5H510.7V533.3H512.1V536.3H513.5V533.5H514.9V536.6" fill="none" stroke="#000" stroke-width="2.0" stroke-linejoin="miter"/>
<rect x="287.3" y="368" width="228.4" height="171.8" fill="none" stroke="#222" stroke-width="1.2"/>
<line x1="287.3" y1="368" x2="287.3" y2="540.5" stroke="#111" stroke-width="1.6"/>
<line x1="288" y1="443" x2="288" y2="540" stroke="#000" stroke-width="2.8"/>
<line x1="286.5" y1="539.9" x2="516" y2="539.9" stroke="#000" stroke-width="1.7"/>
<line x1="282.5" y1="539.7" x2="287" y2="539.7" stroke="#000" stroke-width="1.2"/>
<line x1="284.5" y1="532.9" x2="287" y2="532.9" stroke="#000" stroke-width="1.2"/>
<line x1="284.5" y1="526.0" x2="287" y2="526.0" stroke="#000" stroke-width="1.2"/>
<line x1="284.5" y1="519.2" x2="287" y2="519.2" stroke="#000" stroke-width="1.2"/>
<line x1="284.5" y1="512.4" x2="287" y2="512.4" stroke="#000" stroke-width="1.2"/>
<line x1="282.5" y1="505.5" x2="287" y2="505.5" stroke="#000" stroke-width="1.2"/>
<line x1="284.5" y1="498.7" x2="287" y2="498.7" stroke="#000" stroke-width="1.2"/>
<line x1="284.5" y1="491.8" x2="287" y2="491.8" stroke="#000" stroke-width="1.2"/>
<line x1="284.5" y1="485.0" x2="287" y2="485.0" stroke="#000" stroke-width="1.2"/>
<line x1="284.5" y1="478.2" x2="287" y2="478.2" stroke="#000" stroke-width="1.2"/>
<line x1="282.5" y1="471.3" x2="287" y2="471.3" stroke="#000" stroke-width="1.2"/>
<line x1="284.5" y1="464.5" x2="287" y2="464.5" stroke="#000" stroke-width="1.2"/>
<line x1="284.5" y1="457.7" x2="287" y2="457.7" stroke="#000" stroke-width="1.2"/>
<line x1="284.5" y1="450.8" x2="287" y2="450.8" stroke="#000" stroke-width="1.2"/>
<line x1="284.5" y1="444.0" x2="287" y2="444.0" stroke="#000" stroke-width="1.2"/>
<line x1="282.5" y1="437.2" x2="287" y2="437.2" stroke="#000" stroke-width="1.2"/>
<line x1="284.5" y1="430.3" x2="287" y2="430.3" stroke="#000" stroke-width="1.2"/>
<line x1="284.5" y1="423.5" x2="287" y2="423.5" stroke="#000" stroke-width="1.2"/>
<line x1="284.5" y1="416.7" x2="287" y2="416.7" stroke="#000" stroke-width="1.2"/>
<line x1="284.5" y1="409.8" x2="287" y2="409.8" stroke="#000" stroke-width="1.2"/>
<line x1="282.5" y1="403.0" x2="287" y2="403.0" stroke="#000" stroke-width="1.2"/>
<line x1="284.5" y1="396.1" x2="287" y2="396.1" stroke="#000" stroke-width="1.2"/>
<line x1="284.5" y1="389.3" x2="287" y2="389.3" stroke="#000" stroke-width="1.2"/>
<line x1="284.5" y1="382.5" x2="287" y2="382.5" stroke="#000" stroke-width="1.2"/>
<line x1="284.5" y1="375.6" x2="287" y2="375.6" stroke="#000" stroke-width="1.2"/>
<line x1="282.5" y1="368.8" x2="287" y2="368.8" stroke="#000" stroke-width="1.2"/>
<text transform="translate(278.8,539.3) rotate(-90) scale(0.85,1)" text-anchor="middle" font-size="9.5" class="t s">0</text>
<text transform="translate(278.8,505.1) rotate(-90) scale(0.85,1)" text-anchor="middle" font-size="9.5" class="t s">40</text>
<text transform="translate(278.8,470.9) rotate(-90) scale(0.85,1)" text-anchor="middle" font-size="9.5" class="t s">80</text>
<text transform="translate(278.8,436.8) rotate(-90) scale(0.85,1)" text-anchor="middle" font-size="9.5" class="t s">120</text>
<text transform="translate(278.8,402.6) rotate(-90) scale(0.85,1)" text-anchor="middle" font-size="9.5" class="t s">160</text>
<text transform="translate(278.8,368.4) rotate(-90) scale(0.85,1)" text-anchor="middle" font-size="9.5" class="t s">200</text>
<line x1="288.9" y1="539.9" x2="288.9" y2="544.5" stroke="#000" stroke-width="1.1"/>
<line x1="318.6" y1="539.9" x2="318.6" y2="543.1999999999999" stroke="#000" stroke-width="1.1"/>
<line x1="335.9" y1="539.9" x2="335.9" y2="543.1999999999999" stroke="#000" stroke-width="1.1"/>
<line x1="348.2" y1="539.9" x2="348.2" y2="543.1999999999999" stroke="#000" stroke-width="1.1"/>
<line x1="357.7" y1="539.9" x2="357.7" y2="543.1999999999999" stroke="#000" stroke-width="1.1"/>
<line x1="365.5" y1="539.9" x2="365.5" y2="543.1999999999999" stroke="#000" stroke-width="1.1"/>
<line x1="372.1" y1="539.9" x2="372.1" y2="543.1999999999999" stroke="#000" stroke-width="1.1"/>
<line x1="377.9" y1="539.9" x2="377.9" y2="543.1999999999999" stroke="#000" stroke-width="1.1"/>
<line x1="382.9" y1="539.9" x2="382.9" y2="543.1999999999999" stroke="#000" stroke-width="1.1"/>
<line x1="387.4" y1="539.9" x2="387.4" y2="544.5" stroke="#000" stroke-width="1.1"/>
<line x1="417.1" y1="539.9" x2="417.1" y2="543.1999999999999" stroke="#000" stroke-width="1.1"/>
<line x1="434.4" y1="539.9" x2="434.4" y2="543.1999999999999" stroke="#000" stroke-width="1.1"/>
<line x1="446.7" y1="539.9" x2="446.7" y2="543.1999999999999" stroke="#000" stroke-width="1.1"/>
<line x1="456.2" y1="539.9" x2="456.2" y2="543.1999999999999" stroke="#000" stroke-width="1.1"/>
<line x1="464.0" y1="539.9" x2="464.0" y2="543.1999999999999" stroke="#000" stroke-width="1.1"/>
<line x1="470.6" y1="539.9" x2="470.6" y2="543.1999999999999" stroke="#000" stroke-width="1.1"/>
<line x1="476.4" y1="539.9" x2="476.4" y2="543.1999999999999" stroke="#000" stroke-width="1.1"/>
<line x1="481.4" y1="539.9" x2="481.4" y2="543.1999999999999" stroke="#000" stroke-width="1.1"/>
<line x1="485.9" y1="539.9" x2="485.9" y2="544.5" stroke="#000" stroke-width="1.1"/>
<line x1="515.6" y1="539.9" x2="515.6" y2="543.1999999999999" stroke="#000" stroke-width="1.1"/>
<text transform="translate(280.42,556.4) scale(0.88,1)" font-size="10" class="t s">10<tspan font-size="9" dx="0.8" dy="-5.2">0</tspan></text>
<text transform="translate(379.72,556.4) scale(0.88,1)" font-size="10" class="t s">10<tspan font-size="9" dx="0.8" dy="-5.2">1</tspan></text>
<text transform="translate(477.62,556.4) scale(0.88,1)" font-size="10" class="t s">10<tspan font-size="9" dx="0.8" dy="-5.2">2</tspan></text>
<text x="358" y="421.6" font-size="23.8" class="t b">C3</text>
<text x="401.7" y="398.4" font-size="23.6" class="t b">C3,B,D,P</text>
<text x="440.6" y="435.5" font-size="23.6" class="t b">C3,B,D</text>
<line x1="374.2" y1="427.7" x2="374.3" y2="437.8" stroke="#000" stroke-width="2"/><polygon points="374.3,446.3 369.0,436.8 379.5,436.8" fill="#000"/>
<line x1="431.7" y1="410.2" x2="431.8" y2="440.8" stroke="#000" stroke-width="2"/><polygon points="431.8,449.6 426.5,439.8 437.0,439.8" fill="#000"/>
<line x1="468.3" y1="441.5" x2="468.4" y2="484.7" stroke="#000" stroke-width="2"/><polygon points="468.4,493.2 463.4,483.7 473.4,483.7" fill="#000"/>
</svg>
</body></html>
